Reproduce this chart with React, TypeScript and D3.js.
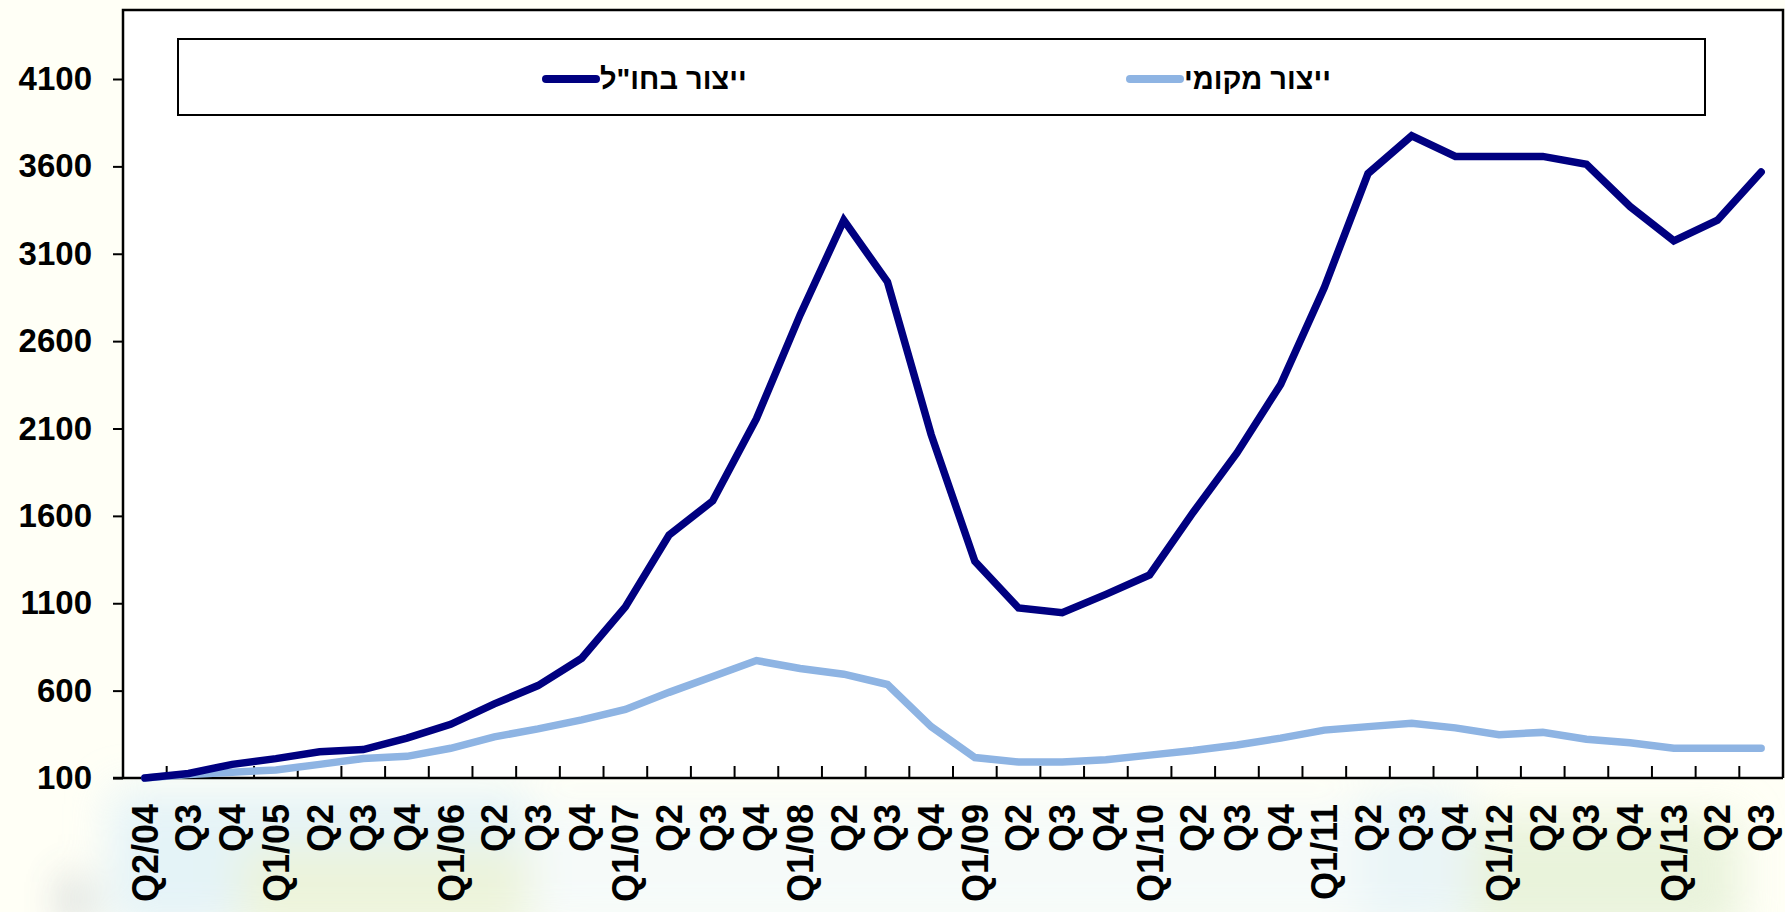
import React, { useEffect, useRef } from "react";
import * as d3 from "d3";

// quarters, Q2/04 .. Q3/13
const categories = [
  "Q2/04", "Q3", "Q4",
  "Q1/05", "Q2", "Q3", "Q4",
  "Q1/06", "Q2", "Q3", "Q4",
  "Q1/07", "Q2", "Q3", "Q4",
  "Q1/08", "Q2", "Q3", "Q4",
  "Q1/09", "Q2", "Q3", "Q4",
  "Q1/10", "Q2", "Q3", "Q4",
  "Q1/11", "Q2", "Q3", "Q4",
  "Q1/12", "Q2", "Q3", "Q4",
  "Q1/13", "Q2", "Q3",
];

// ייצור בחו"ל
const abroadValues = [
  100, 126, 178, 211, 250, 263, 328, 407, 524, 629, 785, 1079, 1490, 1686,
  2156, 2750, 3292, 2939, 2065, 1340, 1073, 1046, 1151, 1262, 1621, 1960,
  2352, 2907, 3559, 3775, 3657, 3657, 3657, 3612, 3370, 3174, 3292, 3568,
];

// ייצור מקומי
const localValues = [
  100, 120, 133, 146, 178, 211, 224, 270, 335, 381, 433, 492, 590, 681, 772,
  727, 694, 635, 394, 217, 191, 191, 204, 231, 257, 289, 328, 374, 394, 413,
  387, 348, 361, 322, 302, 270, 270, 270,
];

const yTicks = [100, 600, 1100, 1600, 2100, 2600, 3100, 3600, 4100];

const seriesNames = ['ייצור בחו"ל', "ייצור מקומי"];
const seriesColors = ["#000080", "#8EB4E3"];

const W = 1785;
const H = 912;
const FONT = "'Liberation Sans', Arial, sans-serif";

const Chart = () => {
  const ref = useRef<SVGSVGElement | null>(null);

  useEffect(() => {
    const svg = d3.select(ref.current);
    svg.selectAll("*").remove();

    const left = 123;
    const right = 1783;
    const top = 10;
    const bottom = 778;

    // page background, faint picture behind the chart
    const defs = svg.append("defs");
    const blur = defs.append("filter").attr("id", "soft").attr("x", "-50%").attr("y", "-50%").attr("width", "200%").attr("height", "200%");
    blur.append("feGaussianBlur").attr("stdDeviation", 22);
    svg.append("rect").attr("width", W).attr("height", H).attr("fill", "#FFFFF6");
    const bg = svg.append("g").attr("filter", "url(#soft)").attr("opacity", 0.75);
    bg.append("rect").attr("x", 110).attr("y", 790).attr("width", 420).attr("height", 140).attr("fill", "#DCEFF8");
    bg.append("rect").attr("x", 240).attr("y", 845).attr("width", 300).attr("height", 90).attr("fill", "#E6F0D2");
    bg.append("rect").attr("x", 530).attr("y", 800).attr("width", 900).attr("height", 130).attr("fill", "#F3F9FB");
    bg.append("rect").attr("x", 1450).attr("y", 815).attr("width", 290).attr("height", 120).attr("fill", "#E2EFD3");
    bg.append("rect").attr("x", 1360).attr("y", 790).attr("width", 110).attr("height", 140).attr("fill", "#E3F2F8");
    bg.append("rect").attr("x", 70).attr("y", 880).attr("width", 14).attr("height", 40).attr("fill", "#5A6E85");

    // plot area
    svg.append("rect")
      .attr("x", left).attr("y", top)
      .attr("width", right - left).attr("height", bottom - top)
      .attr("fill", "#fff");

    const x = d3.scaleBand().domain(d3.range(categories.length).map(String)).range([left, right]);
    const bw = x.bandwidth();
    const cx = (i: number) => (x(String(i)) as number) + bw / 2;

    const y = d3.scaleLinear().domain([100, 4100]).range([bottom, 79]);

    // frame
    svg.append("path")
      .attr("d", `M${left},${bottom}V${top}H${right}V${bottom}`)
      .attr("fill", "none").attr("stroke", "#000").attr("stroke-width", 2.5);

    // y axis
    const yAxis = svg.append("g").attr("transform", `translate(${left},0)`)
      .call(d3.axisLeft(y).tickValues(yTicks).tickSize(10).tickPadding(21).tickFormat(d3.format("d")));
    yAxis.select(".domain").remove();
    yAxis.selectAll(".tick line").attr("stroke", "#000").attr("stroke-width", 2);
    yAxis.selectAll(".tick text")
      .attr("font-family", FONT).attr("font-weight", "bold").attr("font-size", 33).attr("fill", "#000");

    // x axis: ticks at band edges pointing inward
    const edges = d3.range(1, categories.length).map((i) => x(String(i)) as number);
    svg.append("g").selectAll("line").data(edges).join("line")
      .attr("x1", (d) => d).attr("x2", (d) => d)
      .attr("y1", bottom).attr("y2", bottom - 12)
      .attr("stroke", "#000").attr("stroke-width", 2);
    svg.append("line")
      .attr("x1", left - 10).attr("x2", right)
      .attr("y1", bottom).attr("y2", bottom)
      .attr("stroke", "#000").attr("stroke-width", 2.5);

    svg.append("g").selectAll("text").data(categories).join("text")
      .attr("transform", (_d, i) => `translate(${cx(i)},804) rotate(-90)`)
      .attr("text-anchor", "end")
      .attr("dy", "0.36em")
      .attr("font-family", FONT).attr("font-weight", "bold").attr("font-size", 36)
      .attr("fill", "#000")
      .text((d) => d);

    // lines
    const line = d3.line<number>().x((_d, i) => cx(i)).y((d) => y(d));
    [localValues, abroadValues].forEach((vals, k) => {
      svg.append("path")
        .datum(vals)
        .attr("fill", "none")
        .attr("stroke", seriesColors[1 - k])
        .attr("stroke-width", 7.5)
        .attr("stroke-linecap", "round")
        .attr("stroke-linejoin", "miter")
        .attr("d", line);
    });

    // legend
    svg.append("rect")
      .attr("x", 178).attr("y", 39).attr("width", 1527).attr("height", 76)
      .attr("fill", "#fff").attr("stroke", "#000").attr("stroke-width", 2);
    const legendX = [546, 1130];
    seriesNames.forEach((name, i) => {
      const g = svg.append("g").attr("transform", `translate(${legendX[i]},79)`);
      g.append("line").attr("x1", 0).attr("x2", 50).attr("y1", 0).attr("y2", 0)
        .attr("stroke", seriesColors[i]).attr("stroke-width", 8).attr("stroke-linecap", "round");
      g.append("text").attr("x", 54).attr("y", 0).attr("dy", "0.36em")
        .attr("font-family", FONT).attr("font-weight", "bold").attr("font-size", 29)
        .attr("fill", "#000")
        .text(name);
    });
  }, []);

  return <svg ref={ref} width={W} height={H} style={{ display: "block" }} />;
};

export default function App() {
  return (
    <div style={{ position: "absolute", left: 0, top: 0, width: W, height: H, overflow: "hidden" }}>
      <Chart />
    </div>
  );
}
